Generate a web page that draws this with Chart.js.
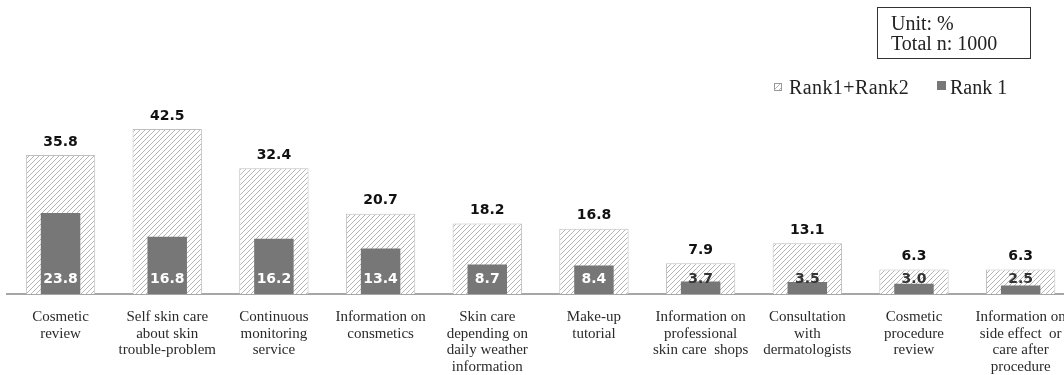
<!DOCTYPE html>
<html>
<head>
<meta charset="utf-8">
<script src="https://cdn.jsdelivr.net/npm/chart.js@4.4.0/dist/chart.umd.min.js"></script>
<style>
  html, body { margin: 0; padding: 0; background: #fff; overflow: hidden; }
  #wrap { position: relative; width: 1064px; height: 375px; overflow: hidden; }
  #chart { position: absolute; left: 0; top: 0; }
  .serif { font-family: "Liberation Serif", "Times New Roman", serif; font-size: 20px; color: #222; }
  #unitBox {
    position: absolute; left: 877px; top: 7px; width: 154px; height: 52px;
    box-sizing: border-box; border: 1px solid #333; padding: 6px 0 0 13px; line-height: 19.5px;
  }
  .legItem { position: absolute; top: 77px; line-height: 20px; white-space: nowrap; }
  .swatch { position: absolute; }
</style>
</head>
<body>
<div id="wrap">
  <canvas id="chart" width="1074" height="375"></canvas>
  <div id="unitBox" class="serif">Unit: %<br>Total n: 1000</div>
  <div class="swatch" id="swHatch" style="left:774px; top:83px; width:8px; height:8px;"></div>
  <div class="legItem serif" style="left:789px; letter-spacing:0.4px;">Rank1+Rank2</div>
  <div class="swatch" style="left:937px; top:81px; width:9px; height:9px; background:#777;"></div>
  <div class="legItem serif" style="left:950px;">Rank 1</div>
</div>
<script>
// categories and values
const categories = [
  ['Cosmetic', 'review'],
  ['Self skin care', 'about skin', 'trouble-problem'],
  ['Continuous', 'monitoring', 'service'],
  ['Information on', 'consmetics'],
  ['Skin care', 'depending on', 'daily weather', 'information'],
  ['Make-up', 'tutorial'],
  ['Information on', 'professional', 'skin care  shops'],
  ['Consultation', 'with', 'dermatologists'],
  ['Cosmetic', 'procedure', 'review'],
  ['Information on', 'side effect  or', 'care after', 'procedure']
];
const rank12 = [35.8, 42.5, 32.4, 20.7, 18.2, 16.8, 7.9, 13.1, 6.3, 6.3];
const rank1 = [23.8, 16.8, 16.2, 13.4, 8.7, 8.4, 3.7, 3.5, 3.0, 2.5];

// hatch pattern ///
function makeHatch() {
  const c = document.createElement('canvas');
  c.width = 5; c.height = 5;
  const g = c.getContext('2d');
  g.fillStyle = '#fff';
  g.fillRect(0, 0, 5, 5);
  g.strokeStyle = '#b5b5b5';
  g.lineWidth = 1;
  g.beginPath();
  g.moveTo(0, 5); g.lineTo(5, 0);
  g.moveTo(-1, 1); g.lineTo(1, -1);
  g.moveTo(4, 6); g.lineTo(6, 4);
  g.stroke();
  return c;
}
const hatchCanvas = makeHatch();
const hatch = document.getElementById('chart').getContext('2d').createPattern(hatchCanvas, 'repeat');
document.getElementById('swHatch').style.background = 'url(' + hatchCanvas.toDataURL() + ')';
document.getElementById('swHatch').style.border = '1px solid #999';
document.getElementById('swHatch').style.boxSizing = 'border-box';

const valueLabels = {
  id: 'valueLabels',
  afterDatasetsDraw(chart) {
    const ctx = chart.ctx;
    const bottom = chart.chartArea.bottom;
    ctx.save();
    ctx.font = 'bold 14px "DejaVu Sans", Verdana, sans-serif';
    ctx.textAlign = 'center';
    // outer bar labels
    ctx.textBaseline = 'bottom';
    ctx.fillStyle = '#111';
    chart.getDatasetMeta(0).data.forEach((el, i) => {
      ctx.fillText(rank12[i].toFixed(1), el.x, el.y - 6);
    });
    // inner bar labels
    ctx.textBaseline = 'alphabetic';
    const base = bottom - 11;
    chart.getDatasetMeta(1).data.forEach((el, i) => {
      ctx.fillStyle = el.y < base - 13 ? '#fff' : '#333';
      ctx.fillText(rank1[i].toFixed(1), el.x, base);
    });
    ctx.restore();
  }
};

new Chart(document.getElementById('chart'), {
  type: 'bar',
  data: {
    labels: categories,
    datasets: [
      {
        label: 'Rank1+Rank2',
        data: rank12,
        backgroundColor: hatch,
        borderColor: '#bfbfbf',
        borderWidth: 1,
        barPercentage: 0.65,
        categoryPercentage: 1,
        grouped: false,
        yAxisID: 'y',
        order: 2
      },
      {
        label: 'Rank 1',
        data: rank1,
        backgroundColor: '#777777',
        borderWidth: 0,
        barPercentage: 0.37,
        categoryPercentage: 1,
        grouped: false,
        yAxisID: 'y2',
        order: 1
      }
    ]
  },
  options: {
    responsive: false,
    animation: false,
    layout: { padding: { left: 7.2, right: 0, top: 100, bottom: 0 } },
    plugins: {
      legend: { display: false },
      tooltip: { enabled: false }
    },
    scales: {
      x: {
        grid: { display: false, drawTicks: false },
        border: { display: true, color: '#a6a6a6', width: 2 },
        ticks: {
          autoSkip: false,
          maxRotation: 0,
          minRotation: 0,
          padding: 15,
          color: '#2a2a2a',
          font: { family: '"Liberation Serif", "Times New Roman", serif', size: 15, lineHeight: 1.1 }
        },
        afterFit(scale) {
          scale.height = 81;
          scale.paddingLeft = 0;
          scale.paddingRight = 0;
        }
      },
      y: { display: false, min: 0, max: 50 },
      y2: { display: false, min: 0, max: 57 }
    }
  },
  plugins: [valueLabels]
});
</script>
</body>
</html>
